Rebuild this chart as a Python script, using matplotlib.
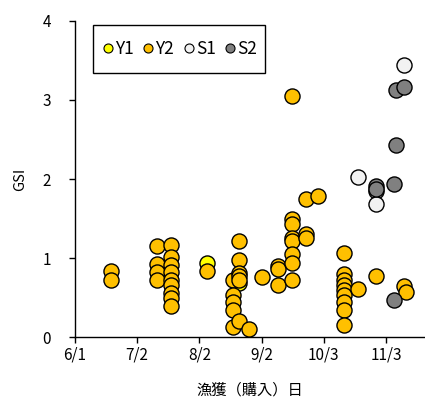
"""GSI by catch (purchase) date, four groups, scatter."""

from datetime import date, timedelta

import matplotlib
matplotlib.use("Agg")
import matplotlib.pyplot as plt
from matplotlib.lines import Line2D
from matplotlib.patches import Rectangle

plt.rcParams["font.family"] = ["Noto Sans CJK JP", "DejaVu Sans"]

YEAR = 2021

# catch date (M/D) and GSI per group
y1_dates = ["8/6", "8/22"]
y1_gsi = [0.94, 0.69]

y2_dates = (["6/19"] * 2 + ["7/12"] * 4 + ["7/19"] * 9 + ["8/6"]
            + ["8/19"] * 5 + ["8/22"] * 6 + ["8/27", "9/2"]
            + ["9/10"] * 3 + ["9/17"] * 8 + ["9/24"] * 3 + ["9/30"]
            + ["10/13"] * 9 + ["10/20", "10/29", "11/12", "11/13"])
y2_gsi = ([0.84, 0.73]
          + [1.15, 0.92, 0.83, 0.72]
          + [1.16, 1.01, 0.91, 0.83, 0.72, 0.66, 0.56, 0.49, 0.39]
          + [0.84]
          + [0.72, 0.53, 0.44, 0.34, 0.13]
          + [1.22, 0.98, 0.81, 0.77, 0.72, 0.20]
          + [0.11, 0.76]
          + [0.90, 0.86, 0.66]
          + [3.05, 1.49, 1.43, 1.26, 1.22, 1.05, 0.94, 0.72]
          + [1.75, 1.31, 1.25]
          + [1.78]
          + [1.07, 0.80, 0.72, 0.66, 0.60, 0.53, 0.45, 0.34, 0.15]
          + [0.61, 0.78, 0.65, 0.57])

s1_dates = ["10/20", "10/29", "10/29", "11/12"]
s1_gsi = [2.03, 1.85, 1.69, 3.44]

s2_dates = ["10/29", "10/29", "11/7", "11/7", "11/8", "11/8", "11/12"]
s2_gsi = [1.91, 1.87, 1.94, 0.47, 2.43, 3.12, 3.16]

x_ticks = ["6/1", "7/2", "8/2", "9/2", "10/3", "11/3"]
y_ticks = [0, 1, 2, 3, 4]


def to_date(s):
    m, d = s.split("/")
    return date(YEAR, int(m), int(d))


series = [
    ("Y1", y1_dates, y1_gsi, "#FFFF00"),
    ("Y2", y2_dates, y2_gsi, "#FFC000"),
    ("S1", s1_dates, s1_gsi, "#F2F2F2"),
    ("S2", s2_dates, s2_gsi, "#808080"),
]

fig = plt.figure(figsize=(4.25, 4.01), dpi=100)
ax = fig.add_axes([0.176, 0.159, 0.822, 0.789])

handles = []
for name, ds, vs, col in series:
    ax.scatter([to_date(d) for d in ds], vs, s=118, c=col,
               edgecolors="black", linewidths=1.0, zorder=3)
    handles.append(Line2D([], [], ls="none", marker="o", markersize=6.5,
                          markerfacecolor=col, markeredgecolor="black",
                          markeredgewidth=0.8, label=name))

start = to_date("6/1")
ax.set_xlim(start, start + timedelta(days=174.5))
ax.set_ylim(0, 4)
ax.set_xticks([to_date(t) for t in x_ticks])
ax.set_xticklabels(x_ticks)
ax.set_yticks(y_ticks)

for side in ("top", "right"):
    ax.spines[side].set_visible(False)
for side in ("left", "bottom"):
    ax.spines[side].set_linewidth(1.0)
ax.tick_params(direction="out", length=4, width=1.0, labelsize=11)
ax.tick_params(axis="x", pad=3)
ax.tick_params(axis="y", pad=13)

ax.set_xlabel("漁獲（購入）日", fontsize=11, labelpad=13)
ax.set_ylabel("GSI", fontsize=10.5, labelpad=11)

# legend box drawn by hand, entries without frame inside it
ax.add_patch(Rectangle((0.052, 0.835), 0.493, 0.152, transform=ax.transAxes,
                       facecolor="white", edgecolor="black", linewidth=1.0,
                       zorder=4, clip_on=False))
leg = ax.legend(handles=handles, loc="center left",
                bbox_to_anchor=(0.080, 0.911), ncol=4, fontsize=12.5,
                frameon=False, handlelength=0.6, handletextpad=0.1,
                columnspacing=0.55, borderpad=0, borderaxespad=0)
leg.set_zorder(5)

fig.savefig("out.png", dpi=100, facecolor="white")
plt.close(fig)
